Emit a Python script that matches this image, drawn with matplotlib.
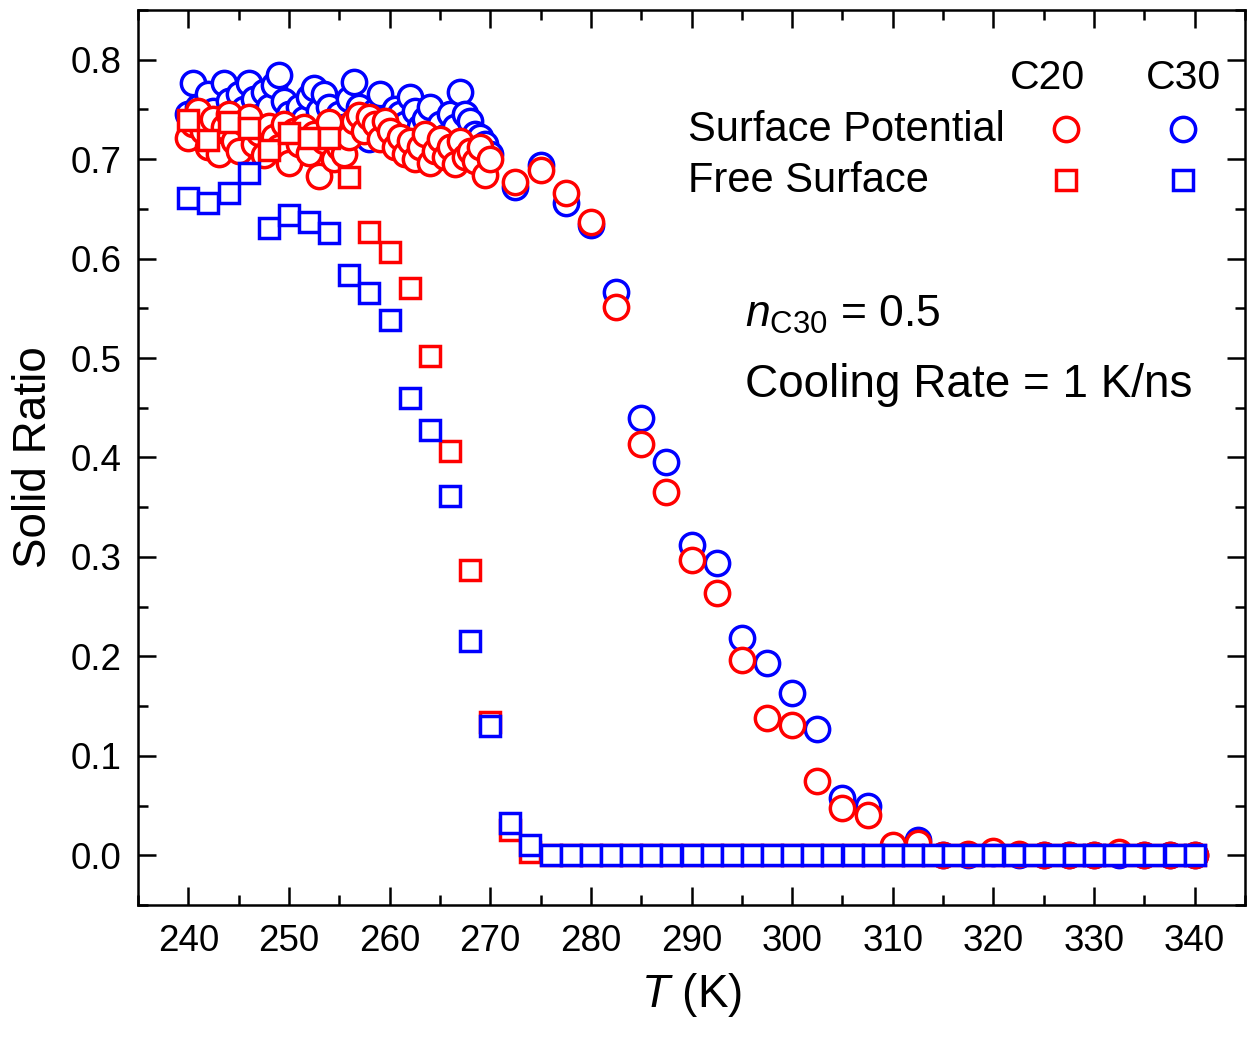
import numpy as np
import matplotlib.pyplot as plt
from matplotlib.ticker import MultipleLocator

plt.rcParams['font.family'] = 'Liberation Sans'
plt.rcParams['mathtext.fontset'] = 'custom'
plt.rcParams['mathtext.rm'] = 'Liberation Sans'
plt.rcParams['mathtext.it'] = 'Liberation Sans:italic'

# surface potential runs: dense sampling 240-270 K, then every 2.5 K
T_dense = np.arange(240, 270.01, 0.5)
T_sparse = np.arange(272.5, 340.01, 2.5)

c20_dense = [0.721, 0.735, 0.748, 0.728, 0.712, 0.740, 0.705, 0.732, 0.745, 0.718,
             0.708, 0.736, 0.742, 0.715, 0.726, 0.704, 0.733, 0.722, 0.712, 0.735,
             0.696, 0.728, 0.715, 0.732, 0.706, 0.725, 0.683, 0.718, 0.737, 0.700,
             0.712, 0.705, 0.722, 0.738, 0.744, 0.728, 0.742, 0.735, 0.720, 0.738,
             0.728, 0.712, 0.722, 0.705, 0.718, 0.700, 0.712, 0.725, 0.696, 0.708,
             0.720, 0.702, 0.712, 0.695, 0.718, 0.702, 0.708, 0.698, 0.712, 0.684,
             0.700]
c30_dense = [0.745, 0.777, 0.752, 0.738, 0.765, 0.748, 0.730, 0.777, 0.758, 0.742,
             0.765, 0.750, 0.777, 0.760, 0.742, 0.768, 0.752, 0.775, 0.785, 0.758,
             0.745, 0.735, 0.752, 0.740, 0.762, 0.772, 0.748, 0.765, 0.752, 0.738,
             0.745, 0.732, 0.760, 0.778, 0.752, 0.742, 0.720, 0.748, 0.765, 0.740,
             0.728, 0.750, 0.745, 0.735, 0.762, 0.748, 0.732, 0.740, 0.752, 0.728,
             0.735, 0.722, 0.745, 0.732, 0.768, 0.745, 0.738, 0.725, 0.722, 0.715,
             0.705]

c20_sparse = [0.677, 0.689, 0.666, 0.637, 0.551, 0.414, 0.365, 0.297, 0.264, 0.196,
              0.138, 0.131, 0.075, 0.048, 0.040, 0.010, 0.012, 0.000, 0.001, 0.004,
              0.001, 0.000, 0.000, 0.000, 0.003, 0.000, 0.000, 0.000]
c30_sparse = [0.672, 0.694, 0.656, 0.634, 0.566, 0.440, 0.395, 0.312, 0.294, 0.218,
              0.193, 0.163, 0.127, 0.058, 0.050, 0.008, 0.015, 0.000, 0.000, 0.002,
              0.000, 0.000, 0.000, 0.000, 0.000, 0.000, 0.000, 0.000]

# free surface runs, every 2 K
T_free = np.arange(240, 340.01, 2)
c20_free = [0.739, 0.719, 0.737, 0.731, 0.709, 0.726, 0.721, 0.721, 0.682, 0.627,
            0.607, 0.570, 0.502, 0.407, 0.287, 0.134, 0.025, 0.003] + [0.0] * 33
c30_free = [0.661, 0.656, 0.666, 0.686, 0.631, 0.644, 0.637, 0.626, 0.583, 0.565,
            0.538, 0.460, 0.428, 0.361, 0.215, 0.130, 0.032, 0.010] + [0.0] * 33

T_sp = np.concatenate([T_dense, T_sparse])
c20_sp = np.concatenate([c20_dense, c20_sparse])
c30_sp = np.concatenate([c30_dense, c30_sparse])

red = '#ff0000'
blue = '#0000ff'
circ = dict(marker='o', ms=17.5, mew=2.5, mfc='white', ls='none')
sq = dict(marker='s', ms=14, mew=2.5, mfc='white', ls='none')

fig = plt.figure(figsize=(12.49, 10.37), dpi=100)
ax = fig.add_axes([0.1105, 0.1273, 0.8863, 0.8631])

ax.plot(T_sp, c30_sp, mec=blue, **circ)
ax.plot(T_sp, c20_sp, mec=red, **circ)
ax.plot(T_free, c20_free, mec=red, **sq)
ax.plot(T_free, c30_free, mec=blue, **sq)

ax.set_xlim(235, 345)
ax.set_ylim(-0.05, 0.85)
ax.xaxis.set_major_locator(MultipleLocator(10))
ax.xaxis.set_minor_locator(MultipleLocator(5))
ax.yaxis.set_major_locator(MultipleLocator(0.1))
ax.yaxis.set_minor_locator(MultipleLocator(0.05))
ax.tick_params(which='both', direction='in', top=True, right=True, width=1.8)
ax.tick_params(which='major', length=13, labelsize=26.5, pad=12)
ax.tick_params(axis='x', which='major', pad=14)
ax.tick_params(which='minor', length=7)
for s in ax.spines.values():
    s.set_linewidth(1.8)

ax.set_xlabel(r'$\mathit{T}$ (K)', fontsize=33, labelpad=8)
ax.set_ylabel('Solid Ratio', fontsize=33, labelpad=10)

# hand-made legend grid
tr = ax.transAxes
ax.text(0.822, 0.924, 'C20', fontsize=29.5, ha='center', va='center', transform=tr)
ax.text(0.944, 0.924, 'C30', fontsize=29.5, ha='center', va='center', transform=tr)
ax.text(0.497, 0.866, 'Surface Potential', fontsize=30, ha='left', va='center', transform=tr)
ax.text(0.497, 0.809, 'Free Surface', fontsize=30, ha='left', va='center', transform=tr)
ax.plot([0.838], [0.867], transform=tr, mec=red, **circ)
ax.plot([0.944], [0.867], transform=tr, mec=blue, **circ)
ax.plot([0.838], [0.810], transform=tr, mec=red, **sq)
ax.plot([0.944], [0.810], transform=tr, mec=blue, **sq)

ax.text(0.548, 0.659, r'$\mathit{n}_{\mathrm{C30}}$ = 0.5', fontsize=32, ha='left', va='center', transform=tr)
ax.text(0.548, 0.581, 'Cooling Rate = 1 K/ns', fontsize=33, ha='left', va='center', transform=tr)

fig.savefig('out.png', dpi=100)
